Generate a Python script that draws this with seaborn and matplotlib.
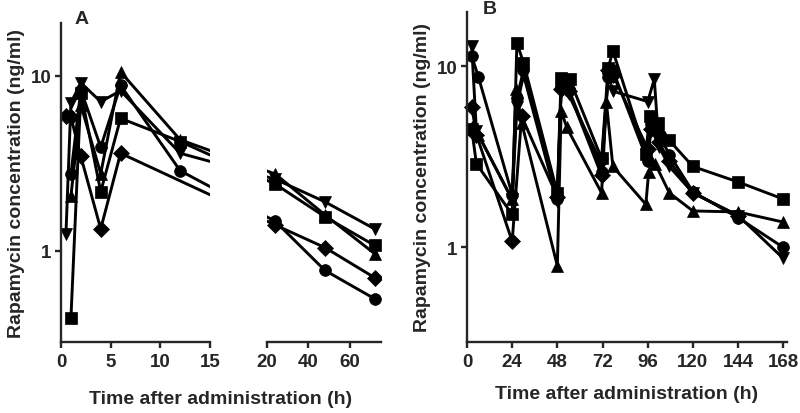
import numpy as np
import pandas as pd
import seaborn as sns
import matplotlib.pyplot as plt

# panel A: single dose, sampled up to 72 h (one list per subject)
time_a = [0.5, 1, 2, 4, 6, 12, 24, 48, 72]
a_square = [np.nan, 0.41, 8.0, 2.17, 5.7, 4.2, 2.4, 1.56, 1.07]
a_tri_up = [np.nan, 2.05, 6.8, 2.75, 10.5, 4.3, 2.74, 1.6, 0.96]
a_tri_down = [1.25, 7.0, 9.1, 7.1, 8.2, 3.6, 2.56, 1.9, 1.33]
a_diamond = [5.85, 5.8, 3.45, 1.33, 3.6, np.nan, 1.4, 1.04, 0.70]
a_circle = [np.nan, 2.74, 8.3, 3.9, 8.8, 2.86, 1.47, 0.77, 0.53]

# panel B: repeated dosing over one week
b_square_t = [2.5, 5, 24, 26.5, 30, 48, 50, 54.5, 71.5, 75, 77.5, 95, 97, 101.5, 107.5, 120, 144, 168]
b_square_c = [4.5, 2.9, 1.52, 13.5, 10.5, 2.0, 8.6, 8.5, 3.1, 9.8, 12.2, 3.3, 5.3, 4.9, 3.9, 2.8, 2.3, 1.85]
b_circle_t = [2.5, 6, 24, 26.5, 30, 48, 50, 54, 71.5, 75, 77.5, 96, 98, 102, 107.5, 120, 144, 168]
b_circle_c = [11.4, 8.8, 1.96, 6.7, 9.5, 1.85, 7.8, 7.5, 2.6, 8.8, 9.5, 3.0, 4.8, 4.2, 3.26, 2.03, 1.46, 1.0]
b_tri_down_t = [2.5, 5, 24, 26.5, 30, 48, 50, 54, 71.5, 75, 77.5, 96, 99.5, 102, 107.5, 120, 144, 168]
b_tri_down_c = [12.9, 4.4, 1.84, 6.0, 9.0, 1.8, 7.2, 7.0, 2.9, 9.0, 7.3, 6.4, 8.5, 3.6, 2.8, 2.0, 1.5, 0.87]
b_diamond_t = [2.5, 5, 24, 29, 48, 50, 54, 71.5, 75, 77.5, 96, 98, 102, 107.5, 120, 144]
b_diamond_c = [6.0, 4.2, 1.08, 5.3, 1.9, 7.5, 7.3, 2.5, 9.5, 9.0, 3.5, 4.5, 3.8, 3.0, 2.0, 1.5]
b_tri_up_t = [2.5, 6, 24, 26, 29, 48, 50, 53, 71.5, 74, 77.5, 95, 96.5, 100, 107.5, 120, 144, 168]
b_tri_up_c = [4.6, 4.2, 1.84, 7.5, 4.9, 0.79, 5.7, 4.6, 2.0, 6.4, 2.8, 1.73, 2.6, 2.9, 2.0, 1.59, 1.57, 1.38]

markers = {"square": "s", "tri_up": "^", "tri_down": "v", "diamond": "D", "circle": "o"}

rows = []
for name, vals in [("square", a_square), ("tri_up", a_tri_up), ("tri_down", a_tri_down),
                   ("diamond", a_diamond), ("circle", a_circle)]:
    rows.append(pd.DataFrame({"time": time_a, "conc": vals, "subject": name}))
df_a = pd.concat(rows).dropna()

rows = []
for name, t, c in [("square", b_square_t, b_square_c), ("circle", b_circle_t, b_circle_c),
                   ("tri_down", b_tri_down_t, b_tri_down_c), ("diamond", b_diamond_t, b_diamond_c),
                   ("tri_up", b_tri_up_t, b_tri_up_c)]:
    rows.append(pd.DataFrame({"time": t, "conc": c, "subject": name}))
df_b = pd.concat(rows)

sns.set_style("ticks")
plt.rcParams["font.family"] = ["Liberation Sans", "DejaVu Sans"]
plt.rcParams["font.weight"] = "bold"
plt.rcParams["axes.labelweight"] = "bold"


# broken x axis of panel A: 0-15 h at full scale, gap, then 20-75 h compressed
def fwd(x):
    x = np.asarray(x, dtype=float)
    return np.where(x <= 15, x, np.where(x <= 20, 15 + (x - 15) * 1.148, 20.74 + (x - 20) * 0.2085))


def inv(u):
    u = np.asarray(u, dtype=float)
    return np.where(u <= 15, u, np.where(u <= 20.74, 15 + (u - 15) / 1.148, 20 + (u - 20.74) / 0.2085))


fig = plt.figure(figsize=(8, 4.14), dpi=100)
W, H = 800, 414
px = 9.93  # pixels per hour on the first segment
a_left, a_bot, a_top = 61, 343, 24
ax1 = fig.add_axes([a_left / W, (H - a_bot) / H, 15 * px / W, (a_bot - a_top) / H])
x2 = a_left + float(fwd(20)) * px
w2 = (float(fwd(75)) - float(fwd(20))) * px
ax2 = fig.add_axes([x2 / W, (H - a_bot) / H, w2 / W, (a_bot - a_top) / H])
axb = fig.add_axes([467 / W, (H - a_bot) / H, 320 / W, (a_bot - 13) / H])

line_kw = dict(x="time", y="conc", style="subject", markers=markers, dashes=False,
               color="black", estimator=None, legend=False, lw=2.1,
               markersize=8.5, mec="black", mew=0.5)

for ax in (ax1, ax2):
    ax.set_xscale("function", functions=(fwd, inv))
    sns.lineplot(data=df_a, ax=ax, **line_kw)
ax1.set_xlim(0, 15)
ax2.set_xlim(20, 75)
ax1.set_xticks([0, 5, 10, 15])
ax2.set_xticks([20, 40, 60])

sns.lineplot(data=df_b, ax=axb, clip_on=False, **line_kw)
axb.set_xlim(0, 170)
axb.set_xticks(range(0, 169, 24))

for ax in (ax1, ax2, axb):
    ax.set_yscale("log")
    ax.set_ylim(0.3, 20)
    ax.set_yticks([1, 10])
    ax.set_yticklabels(["1", "10"])
    ax.yaxis.set_minor_locator(plt.NullLocator())
    ax.set_xlabel("")
    ax.set_ylabel("")
    ax.patch.set_alpha(0)
    for s in ("top", "right"):
        ax.spines[s].set_visible(False)
    for s in ("left", "bottom"):
        ax.spines[s].set_linewidth(1.7)
    ax.tick_params(axis="both", which="major", direction="out", length=4, width=1.7,
                   labelsize=13.5, pad=3)
    ax.tick_params(axis="x", pad=4)
    for lab in ax.get_xticklabels() + ax.get_yticklabels():
        lab.set_fontweight("bold")

ax2.spines["left"].set_visible(False)
ax2.tick_params(axis="y", left=False, labelleft=False)

ax1.set_ylabel("Rapamycin concentration (ng/ml)", fontsize=14, fontweight="bold", labelpad=4)
axb.set_ylabel("Rapamycin concentration (ng/ml)", fontsize=14, fontweight="bold", labelpad=4)
fig.text((61 + 381) / 2 / W, 1 - 400 / H, "Time after administration (h)",
         ha="center", va="center", fontsize=14, fontweight="bold")
axb.set_xlabel("Time after administration (h)", fontsize=14, fontweight="bold", labelpad=11)

fig.text(82 / W, 1 - 20 / H, "A", ha="center", va="center", fontsize=14, fontweight="bold")
fig.text(490 / W, 1 - 9 / H, "B", ha="center", va="center", fontsize=14, fontweight="bold")

fig.savefig("out.png", dpi=100)
